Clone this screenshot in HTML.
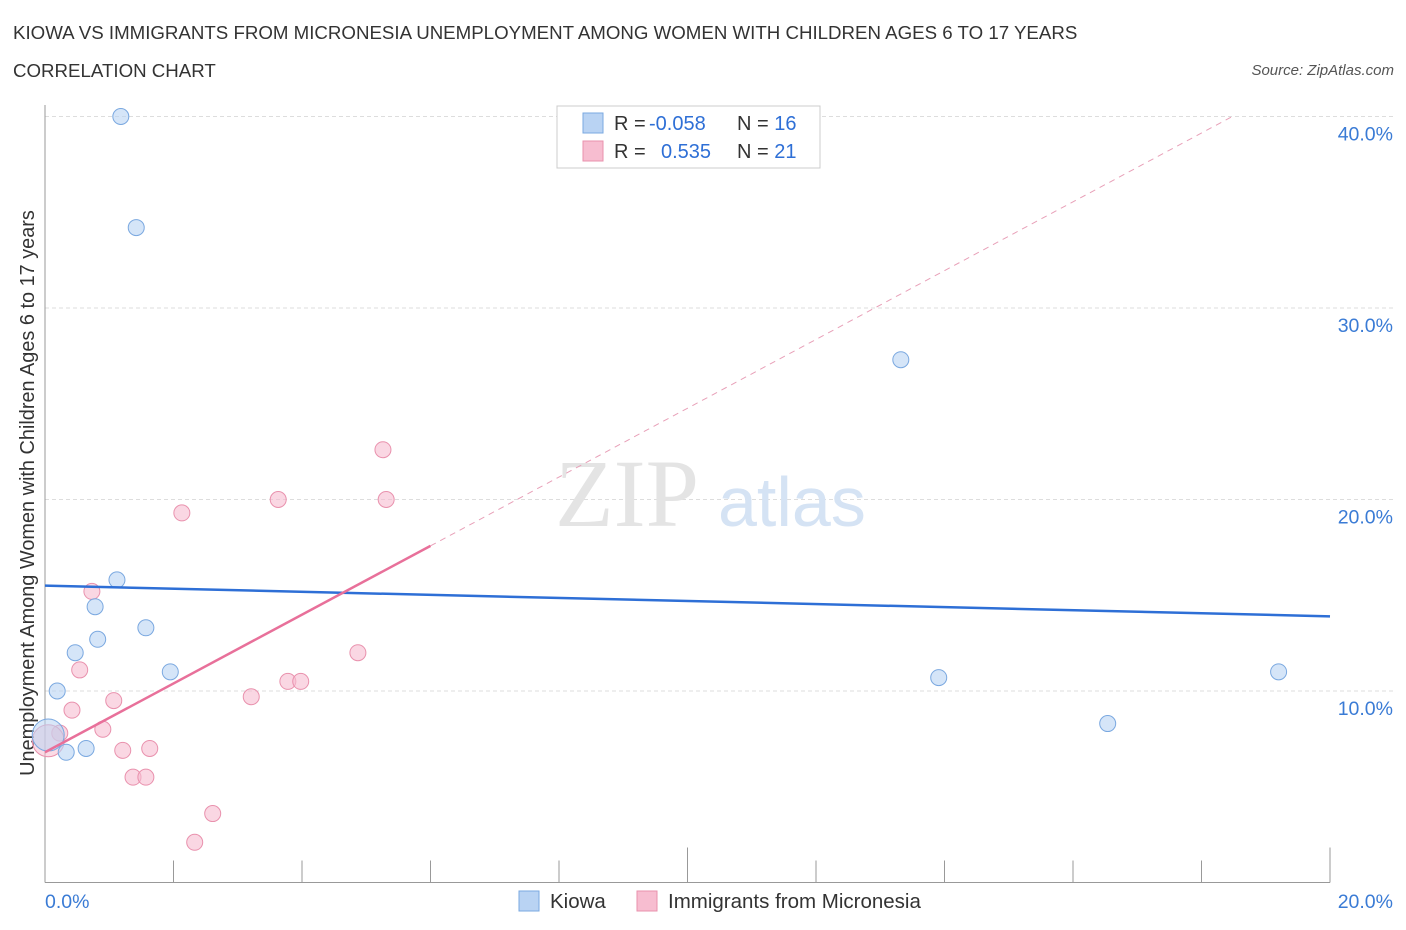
<!DOCTYPE html>
<html><head><meta charset="utf-8">
<style>
body{margin:0;background:#fff;font-family:"Liberation Sans",sans-serif;}
#wrap{position:relative;width:1406px;height:930px;overflow:hidden;}
.t{position:absolute;white-space:nowrap;}
</style></head>
<body>
<div id="wrap">
<div class="t" style="left:13px;top:22px;font-size:18.7px;color:#333;">KIOWA VS IMMIGRANTS FROM MICRONESIA UNEMPLOYMENT AMONG WOMEN WITH CHILDREN AGES 6 TO 17 YEARS</div>
<div class="t" style="left:13px;top:60px;font-size:18.7px;color:#333;">CORRELATION CHART</div>
<div class="t" style="right:12px;top:62px;font-size:15px;color:#555;font-style:italic;">Source: ZipAtlas.com</div>
<svg id="svg" width="1406" height="930" style="position:absolute;left:0;top:0"></svg>
</div>
<script>
const kiowaX=[1.18,1.42,1.12,0.78,1.57,0.82,0.47,1.95,0.19,0.05,0.33,0.64,13.32,13.91,16.54,19.2];
const kiowaY=[40.0,34.2,15.8,14.4,13.3,12.7,12.0,11.0,10.0,7.7,6.8,7.0,27.3,10.7,8.3,11.0];
const microX=[5.26,3.63,5.31,2.13,0.73,4.87,0.54,3.78,3.98,3.21,1.07,0.42,0.9,0.23,0.05,1.21,1.63,1.37,1.57,2.61,2.33];
const microY=[22.6,20.0,20.0,19.3,15.2,12.0,11.1,10.5,10.5,9.7,9.5,9.0,8.0,7.8,7.4,6.9,7.0,5.5,5.5,3.6,2.1];
const kiowaTrendY=[15.5,13.9];
const microTrendY=[6.8,40.0];
const yTicks=[10,20,30,40];
const yTickLabels=["10.0%","20.0%","30.0%","40.0%"];
const xTickLabels=["0.0%","20.0%"];

const X0=45,X1=1330,Y0=882.5,PY=19.15;
function sx(v){return X0+(X1-X0)*v/20;}
function sy(v){return Y0-v*PY;}
const svg=document.getElementById('svg');
const NS='http://www.w3.org/2000/svg';
function el(tag,attrs,parent){const e=document.createElementNS(NS,tag);for(const k in attrs)e.setAttribute(k,attrs[k]);(parent||svg).appendChild(e);return e;}

yTicks.forEach((v,i)=>{
 const g=el('line',{x1:X0,x2:X1+65,y1:sy(v),y2:sy(v),stroke:'#ddd','stroke-dasharray':'4,3'});
 
 
 const t=el('text',{x:1393,y:sy(v)+24,'text-anchor':'end','font-size':19.5,fill:'#3a7bd5','font-family':'Liberation Sans'});
 t.textContent=yTickLabels[i];
 
 
});
const ax=el('line',{x1:X0,x2:X1,y1:Y0,y2:Y0,stroke:'#999'});


const ay=el('line',{x1:X0,x2:X0,y1:105,y2:Y0,stroke:'#999'});


for(let i=0;i<=10;i++){
 const x=X0+(X1-X0)*i/10;
 const tk=el('line',{x1:x,x2:x,y1:Y0,y2:i%5==0?Y0-35:Y0-22,stroke:'#999'});
 
 
}
[[0,'start',45],[20,'end',1393]].forEach((a,i)=>{
 const t=el('text',{x:a[2],y:908,'text-anchor':a[1],'font-size':19.5,fill:'#3a7bd5','font-family':'Liberation Sans'});
 t.textContent=xTickLabels[i];
 
 
});
const wm=el('text',{x:555,y:526,'font-size':96,fill:'#e4e4e4','font-family':'Liberation Serif'});
wm.textContent='ZIP';


const wm2=el('text',{x:718,y:526,'font-size':70,fill:'#d5e3f4','font-family':'Liberation Sans'});
wm2.textContent='atlas';


const yt=el('text',{transform:'translate(34,493) rotate(-90)','text-anchor':'middle','font-size':19.9,fill:'#333','font-family':'Liberation Sans'});
yt.textContent='Unemployment Among Women with Children Ages 6 to 17 years';



function pts(xs,ys,fill,stroke,name){
 xs.forEach((x,i)=>{
  const big=x<0.1;
  const c=el('circle',{cx:sx(x),cy:sy(ys[i]),r:big?16:8,fill:fill,stroke:stroke,'stroke-width':1,'fill-opacity':big?0.55:0.6});
  
  
 });
}
pts(microX,microY,'#f7bdd0','#e991ad','micronesia-point');
pts(kiowaX,kiowaY,'#b9d3f3','#7aa8e0','kiowa-point');

const kt=el('line',{x1:sx(0),y1:sy(kiowaTrendY[0]),x2:sx(20),y2:sy(kiowaTrendY[1]),stroke:'#2e6fd6','stroke-width':2.5});


const mEnd=18.48, mSolid=6.0;
function my(x){return microTrendY[0]+(microTrendY[1]-microTrendY[0])*x/mEnd;}
const md=el('line',{x1:sx(mSolid),y1:sy(my(mSolid)),x2:sx(mEnd),y2:sy(my(mEnd)),stroke:'#e8a0b8','stroke-width':1,'stroke-dasharray':'6,5'});


const ms=el('line',{x1:sx(0),y1:sy(my(0)),x2:sx(mSolid),y2:sy(my(mSolid)),stroke:'#e8709a','stroke-width':2.5});



const lb=el('rect',{x:557,y:106,width:263,height:62,fill:'#fff',stroke:'#ccc'});


[['#b9d3f3','#7aa8e0','-0.058','16',123],['#f7bdd0','#e991ad','0.535','21',151]].forEach(r=>{
 const s=el('rect',{x:583,y:r[4]-10,width:20,height:20,fill:r[0],stroke:r[1]});
 
 
 const t=el('text',{x:614,y:r[4]+7,'font-size':20,fill:'#333','font-family':'Liberation Sans'});
 t.innerHTML='R = <tspan fill="#2e6fd6" x="'+(r[2][0]=='-'?649:661)+'">'+r[2]+'</tspan><tspan x="737">N = </tspan><tspan fill="#2e6fd6">'+r[3]+'</tspan>';
 
 
});
[['#b9d3f3','#7aa8e0',519,'Kiowa'],['#f7bdd0','#e991ad',637,'Immigrants from Micronesia']].forEach(r=>{
 const s=el('rect',{x:r[2],y:891,width:20,height:20,fill:r[0],stroke:r[1]});
 
 
 const t=el('text',{x:r[2]+31,y:908,'font-size':20.5,fill:'#333','font-family':'Liberation Sans'});
 t.textContent=r[3];
 
 
});
</script>
</body></html>
